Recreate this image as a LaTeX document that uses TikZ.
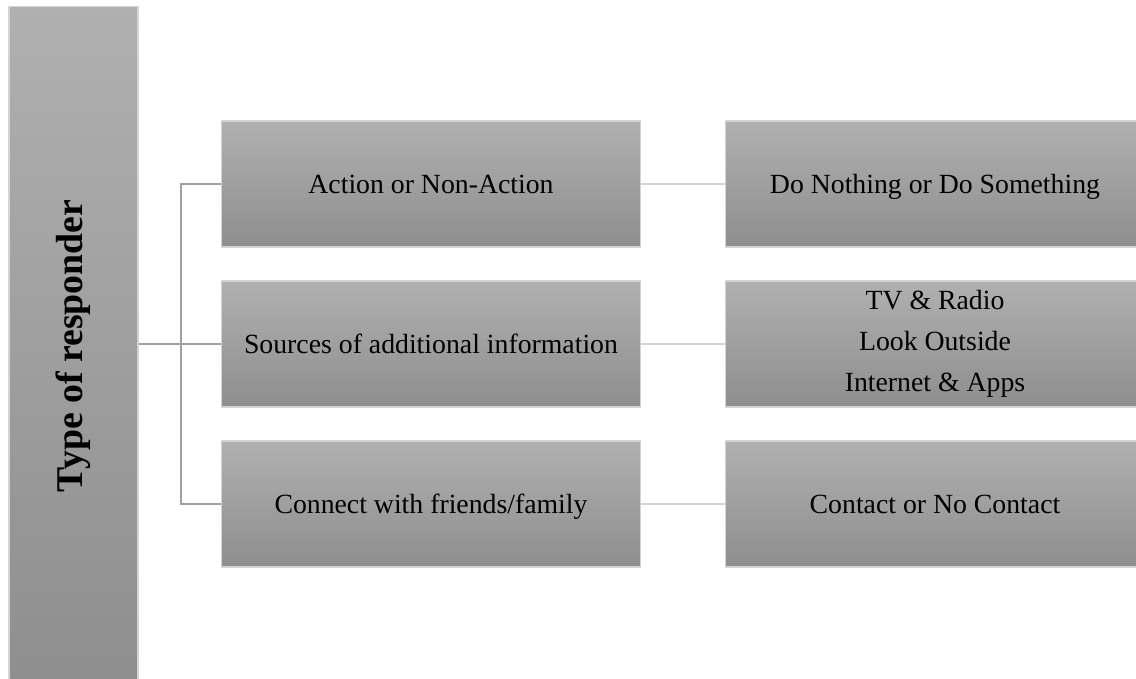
\documentclass[tikz,border=0pt]{standalone}
\usepackage{fontspec}
\setmainfont{Liberation Serif}
\definecolor{boxtop}{RGB}{176,176,176}
\definecolor{boxbottom}{RGB}{142,142,142}
\definecolor{boxline}{RGB}{212,212,212}
\begin{document}
\begin{tikzpicture}[x=0.02cm,y=-0.02cm,
	item/.style={draw=boxline,line width=0.6pt,top color=boxtop,bottom color=boxbottom,minimum width=8.4cm,minimum height=2.52cm,inner sep=0pt,align=center,font=\fontsize{15.8}{23.3}\selectfont},
	oneline/.style={item,text height=14.2pt,text depth=3.8pt}]
		\useasboundingbox (0,0) rectangle (1136,679);
		\node[draw=boxline,line width=0.6pt,top color=boxtop,bottom color=boxbottom,minimum width=2.58cm,minimum height=13.6cm,inner sep=0pt] (resp) at (73.5,346) {};
		\node[rotate=90,font=\bfseries\fontsize{21.5}{25}\selectfont] (resplabel) at (resp.center) {Type of responder};
		\node[oneline] (action) at (431,184) {Action or Non-Action};
		\node[oneline] (sources) at (431,344) {Sources of additional information};
		\node[oneline] (connect) at (431,504) {Connect with friends/family};
		\node[oneline] (donothing) at (935,184) {Do Nothing or Do Something};
		\node[item] (media) at (935,344) {TV \& Radio\\Look Outside\\Internet \& Apps};
		\node[oneline] (contact) at (935,504) {Contact or No Contact};
		\coordinate (fork) at (181,344);
		\draw[gray!75,line width=0.6pt] (action.west) -| (fork) |- (connect.west);
		\draw[gray!75,line width=0.6pt] (resp.east |- fork) -- (sources.west);
		\draw[boxline,line width=1pt] (action.east) -- (donothing.west);
		\draw[boxline,line width=1pt] (sources.east) -- (media.west);
		\draw[boxline,line width=1pt] (connect.east) -- (contact.west);
		\end{tikzpicture}
\end{document}
